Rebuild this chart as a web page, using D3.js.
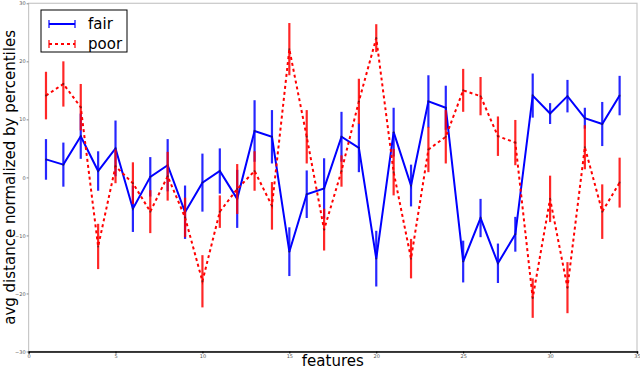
<!DOCTYPE html>
<html>
<head>
<meta charset="utf-8">
<script src="https://cdnjs.cloudflare.com/ajax/libs/d3/7.8.5/d3.min.js"></script>
<style>
  body { margin: 0; background: #fff; }
  svg text { font-family: "DejaVu Sans", sans-serif; }
</style>
</head>
<body>
<div id="chart"></div>
<script>
// data
var features = [1, 2, 3, 4, 5, 6, 7, 8, 9, 10, 11, 12, 13, 14, 15, 16, 17,
                18, 19, 20, 21, 22, 23, 24, 25, 26, 27, 28, 29, 30, 31, 32, 33, 34];
var fairMean = [3.1, 2.2, 7.1, 1.1, 5.0, -5.4, 0.1, 2.1, -6.0, -0.9, 1.1, -3.7, 8.0, 7.0, -12.8, -2.9, -1.9,
                7.0, 5.1, -14.0, 7.8, -1.4, 13.1, 12.0, -14.5, -7.0, -14.8, -9.8, 14.1, 11.0, 14.0, 10.2, 9.2, 14.1];
var fairErr  = [3.5, 3.8, 3.9, 3.4, 4.8, 4.0, 3.4, 4.5, 4.6, 5.0, 3.9, 5.0, 5.3, 4.6, 4.2, 4.1, 5.2,
                4.3, 4.2, 4.8, 4.2, 3.6, 4.5, 3.8, 3.6, 3.3, 3.4, 3.0, 3.8, 1.8, 2.8, 1.8, 3.8, 3.4];
var poorMean = [14.1, 16.1, 12.1, -11.9, 1.9, -1.0, -5.9, 0.2, -6.9, -17.9, -5.9, -2.0, 1.1, -4.9, 22.1, 7.0, -9.0,
                1.1, 13.1, 24.0, 0.9, -14.0, 4.8, 7.0, 15.0, 14.0, 7.1, 6.0, -20.8, -3.7, -19.0, 5.2, -5.9, -0.9];
var poorErr  = [4.1, 3.9, 4.0, 3.9, 2.9, 3.6, 3.7, 4.2, 3.4, 4.5, 2.8, 4.3, 3.4, 4.1, 4.5, 4.6, 3.6,
                2.7, 3.9, 2.4, 4.0, 3.4, 3.9, 4.6, 3.7, 3.3, 3.4, 3.9, 3.4, 4.0, 4.4, 3.8, 4.7, 4.3];
var xTicks = [0, 5, 10, 15, 20, 25, 30, 35];
var yTicks = [-30, -20, -10, 0, 10, 20, 30];

var margin = {top: 3.3, right: 3, bottom: 18.5, left: 28.6},
    width = 640 - margin.left - margin.right,
    height = 370 - margin.top - margin.bottom;

var svg = d3.select("#chart")
  .append("svg")
    .attr("width", 640)
    .attr("height", 370)
  .append("g")
    .attr("transform", "translate(" + margin.left + "," + margin.top + ")");

var x = d3.scaleLinear().domain([0, 35]).range([0, width]);
var y = d3.scaleLinear().domain([-30, 30]).range([height, 0]);

// frame
svg.append("rect")
  .attr("x", 0).attr("y", 0)
  .attr("width", width).attr("height", height)
  .attr("fill", "none")
  .attr("stroke", "#c8c8c8")
  .attr("stroke-width", 1.2);

// axes
var xAxis = svg.append("g")
  .attr("transform", "translate(0," + height + ")")
  .call(d3.axisBottom(x).tickValues(xTicks).tickSize(2).tickPadding(1));
xAxis.select(".domain").attr("stroke", "#000").attr("stroke-width", 1.6);
xAxis.selectAll("text").attr("font-size", 5).attr("fill", "#555");

var yAxis = svg.append("g")
  .call(d3.axisLeft(y).tickValues(yTicks).tickSize(2).tickPadding(1));
yAxis.select(".domain").remove();
yAxis.selectAll("line").attr("stroke", "#888");
yAxis.selectAll("text").attr("font-size", 5).attr("fill", "#555");

function drawSeries(mean, err, color, dash) {
  var pts = features.map(function(f, i) { return {f: f, m: mean[i], e: err[i]}; });
  svg.append("path")
    .datum(pts)
    .attr("fill", "none")
    .attr("stroke", color)
    .attr("stroke-width", 2)
    .attr("stroke-dasharray", dash)
    .attr("d", d3.line()
      .x(function(d) { return x(d.f); })
      .y(function(d) { return y(d.m); }));
  svg.selectAll(null)
    .data(pts)
    .enter()
    .append("line")
      .attr("x1", function(d) { return x(d.f); })
      .attr("x2", function(d) { return x(d.f); })
      .attr("y1", function(d) { return y(d.m + d.e); })
      .attr("y2", function(d) { return y(d.m - d.e); })
      .attr("stroke", color)
      .attr("stroke-opacity", 0.85)
      .attr("stroke-width", 2.2);
  svg.selectAll(null)
    .data(pts)
    .enter()
    .append("circle")
      .attr("cx", function(d) { return x(d.f); })
      .attr("cy", function(d) { return y(d.m); })
      .attr("r", 1)
      .attr("fill", "#222")
      .attr("fill-opacity", 0.6);
}

drawSeries(fairMean, fairErr, "#0000ff", null);
drawSeries(poorMean, poorErr, "#ff0000", "3,3");

// legend
var legend = svg.append("g").attr("transform", "translate(12.4,6.7)");
legend.append("rect")
  .attr("width", 86).attr("height", 42)
  .attr("fill", "#fff")
  .attr("stroke", "#000")
  .attr("stroke-width", 1);
var items = [{name: "fair", color: "#0000ff", dash: null},
             {name: "poor", color: "#ff0000", dash: "3,3"}];
items.forEach(function(it, i) {
  var g = legend.append("g").attr("transform", "translate(0," + (14 + i * 20) + ")");
  g.append("line")
    .attr("x1", 8).attr("x2", 34).attr("y1", 0).attr("y2", 0)
    .attr("stroke", it.color).attr("stroke-width", 2)
    .attr("stroke-dasharray", it.dash);
  [8, 34].forEach(function(px) {
    g.append("line")
      .attr("x1", px).attr("x2", px).attr("y1", -4).attr("y2", 4)
      .attr("stroke", it.color).attr("stroke-width", 1.2);
  });
  g.append("text")
    .attr("x", 47).attr("y", 5)
    .attr("font-size", 15)
    .text(it.name);
});

// axis titles
svg.append("text")
  .attr("x", width / 2)
  .attr("y", height + 15)
  .attr("text-anchor", "middle")
  .attr("font-size", 15)
  .text("features");

svg.append("text")
  .attr("transform", "translate(" + (-margin.left + 15) + "," + (height / 2) + ")rotate(-90)")
  .attr("text-anchor", "middle")
  .attr("font-size", 15)
  .text("avg distance normalized by percentiles");
</script>
</body>
</html>
